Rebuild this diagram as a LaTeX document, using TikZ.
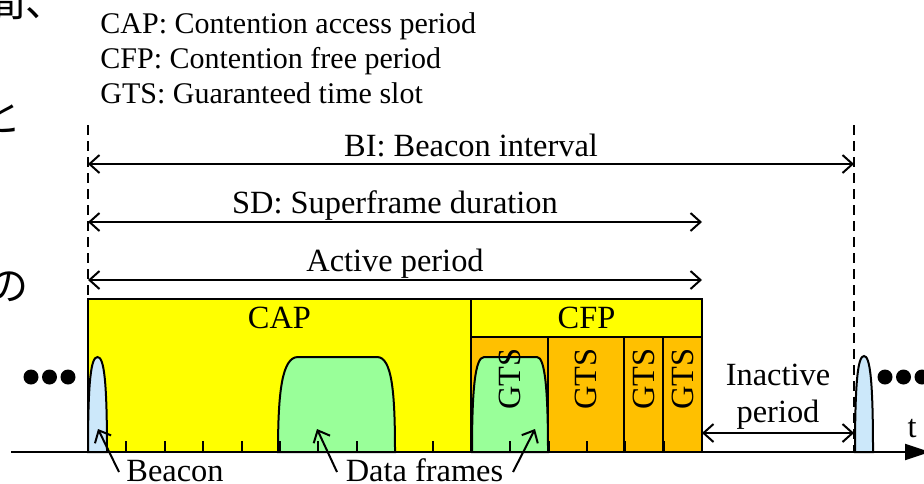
\documentclass[tikz,border=0pt]{standalone}
\usepackage{fontspec}
\setmainfont{Liberation Serif}
\newfontfamily\jpfont{Noto Sans CJK JP}
\usetikzlibrary{arrows.meta}
\definecolor{capyellow}{HTML}{FFFF00}
\definecolor{gtsorange}{HTML}{FFC000}
\definecolor{framegreen}{HTML}{99FF99}
\definecolor{beaconblue}{HTML}{CCE8FA}
\begin{document}
\begin{tikzpicture}[x=0.5pt,y=-0.5pt,
  legend/.style={font=\fontsize{15}{18}\selectfont, inner sep=0pt},
  lbl/.style={font=\fontsize{16.2}{19}\selectfont, inner sep=0pt},
  jp/.style={font=\jpfont\fontsize{20}{24}\selectfont, inner sep=0pt},
  outline/.style={draw=black, line width=1pt},
  guide/.style={draw=black, line width=0.8pt, dash pattern=on 5pt off 3pt},
  barb/.style={line width=1pt, -{Straight Barb[length=5pt,width=9pt]}},
  dimarrow/.style={line width=1pt, {Straight Barb[length=5pt,width=9pt]}-{Straight Barb[length=5pt,width=9pt]}},
  gtslbl/.style={lbl, rotate=90, anchor=center}]
\useasboundingbox (0,0) rectangle (924,483);

% legend
\node[legend, anchor=base west] (legcap) at (100,33) {CAP: Contention access period};
\node[legend, anchor=base west] (legcfp) at (100,68) {CFP: Contention free period};
\node[legend, anchor=base west] (leggts) at (100,103) {GTS: Guaranteed time slot};

% surrounding text, cut at the left edge
\node[jp, anchor=base west] (jpa) at (-15,16) {間、};
\node[jp, anchor=base west] (jpb) at (-19,131) {と};
\node[jp, anchor=base west] (jpc) at (-12,300) {の};

% key instants
\coordinate (bstart) at (88,125);
\coordinate (bend) at (854,125);
\coordinate (sdend) at (702,280);

% superframe body
\draw[outline, fill=capyellow] (88,299) rectangle (702,452);
\draw[outline, fill=capyellow] (471,299) rectangle (702,337);
\foreach \a/\b in {471/548, 548/624, 624/663, 663/702}
  \draw[outline, fill=gtsorange] (\a,337) rectangle (\b,452);

\node[lbl, anchor=base] (caplbl) at (279.5,328) {CAP};
\node[lbl, anchor=base] (cfplbl) at (586.5,328) {CFP};

% frames
\draw[outline, fill=beaconblue] (88,452) .. controls (88,380) and (91,357) .. (97.5,357)
  .. controls (104,357) and (107,380) .. (107,452) -- cycle;
\draw[outline, fill=framegreen] (278,452) .. controls (278,392) and (282,357) .. (298,357)
  -- (377,357) .. controls (392,357) and (395,392) .. (395,452) -- cycle;
\draw[outline, fill=framegreen] (472,452) .. controls (472,390) and (475,357) .. (484,357)
  -- (537,357) .. controls (545,357) and (548,390) .. (548,452) -- cycle;
\draw[outline, fill=beaconblue] (855,452) .. controls (855,380) and (858,356) .. (864,356)
  .. controls (870,356) and (873,380) .. (873,452) -- cycle;

% slot ticks
\foreach \k in {1,...,15}
  \draw[outline] ({88+\k*614/16},452) -- ++(0,-11);

% GTS labels
\node[gtslbl] (gts1) at (509.5,379) {GTS};
\node[gtslbl] (gts2) at (586,379) {GTS};
\node[gtslbl] (gts3) at (643.5,379) {GTS};
\node[gtslbl] (gts4) at (682.5,379) {GTS};

% boundaries of the beacon interval
\draw[guide] (bstart) -- (88,299);
\draw[guide] (bend) -- (854,452);

% time axis
\coordinate (axl) at (11,452);
\coordinate (axr) at (930,452);
\draw[line width=1pt, -{Triangle[length=12.5pt,width=8pt]}] (axl) -- (axr);
\node[lbl, anchor=base] (tlbl) at (912,437) {t};

% interval dimensions
\coordinate (bil) at (88,164);
\coordinate (bir) at (854,164);
\draw[dimarrow] (bil) -- (bir);
\node[lbl, anchor=base] (bilbl) at (471,156) {BI: Beacon interval};
\coordinate (sdl) at (88,222);
\coordinate (sdr) at (702,222);
\draw[dimarrow] (sdl) -- (sdr);
\node[lbl, anchor=base] (sdlbl) at (395,213) {SD: Superframe duration};
\coordinate (apl) at (88,280);
\draw[dimarrow] (apl) -- (sdend);
\node[lbl, anchor=base] (aplbl) at (395,271) {Active period};
\coordinate (inl) at (702,433);
\coordinate (inr) at (854,433);
\draw[dimarrow] (inl) -- (inr);
\node[lbl, anchor=base] (inlbl1) at (778,385) {Inactive};
\node[lbl, anchor=base] (inlbl2) at (778,422) {period};

% continuation marks
\foreach \x in {31,49.5,68,885,903.5,922}
  \fill (\x,377) circle (7.5);

% annotations
\node[lbl, anchor=base] (beaconlbl) at (175,481) {Beacon};
\node[lbl, anchor=base] (datalbl) at (424.5,481) {Data frames};
\coordinate (bca) at (119,472);
\coordinate (bcb) at (98,429);
\draw[barb] (bca) -- (bcb);
\coordinate (dfa) at (337,472);
\coordinate (dfb) at (317,429);
\draw[barb] (dfa) -- (dfb);
\coordinate (dfc) at (513,472);
\coordinate (dfd) at (535,429);
\draw[barb] (dfc) -- (dfd);
\end{tikzpicture}
\end{document}
